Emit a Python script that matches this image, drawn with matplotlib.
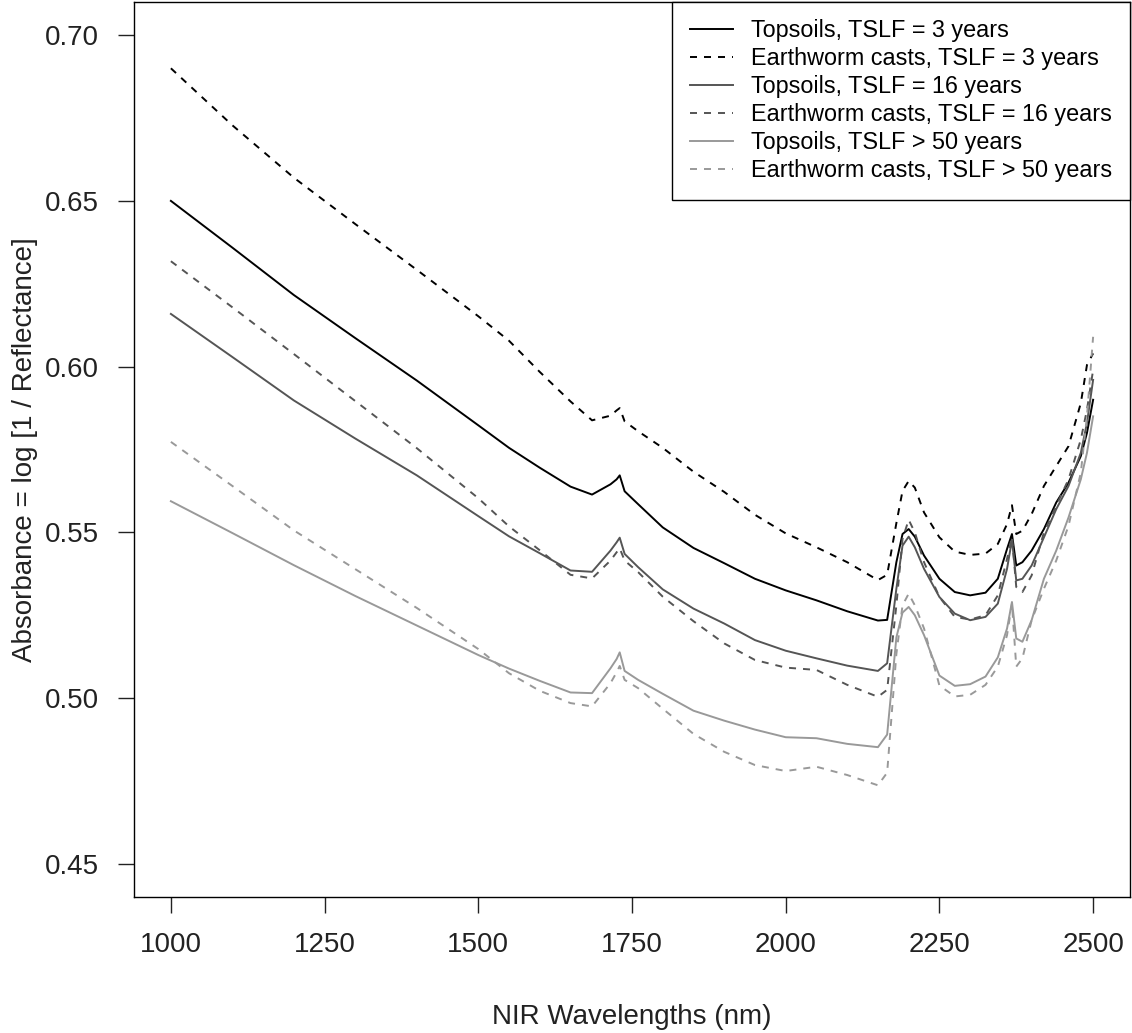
import matplotlib
matplotlib.use("Agg")
import matplotlib.pyplot as plt

plt.rcParams['font.family'] = ['Liberation Sans', 'DejaVu Sans']

wavelength = [1000, 1100, 1200, 1300, 1400, 1500, 1550, 1600, 1650, 1685,
              1715, 1725, 1730, 1738, 1760, 1800, 1850, 1900, 1950, 2000,
              2050, 2100, 2150, 2165, 2180, 2190, 2200, 2210, 2225, 2250,
              2275, 2300, 2325, 2345, 2360, 2368, 2375, 2385, 2400, 2420,
              2440, 2460, 2480, 2490, 2500]

topsoil_3 = [0.6500, 0.6359, 0.6216, 0.6086, 0.5958, 0.5823, 0.5755, 0.5695, 0.5638, 0.5614,
             0.5645, 0.5660, 0.5672, 0.5624, 0.5585, 0.5515, 0.5453, 0.5407, 0.5360, 0.5325,
             0.5295, 0.5262, 0.5234, 0.5236, 0.5410, 0.5495, 0.5510, 0.5487, 0.5430, 0.5360,
             0.5320, 0.5310, 0.5318, 0.5360, 0.5450, 0.5495, 0.5400, 0.5410, 0.5445, 0.5510,
             0.5590, 0.5650, 0.5730, 0.5800, 0.5900]

casts_3 = [0.6900, 0.6728, 0.6570, 0.6430, 0.6292, 0.6152, 0.6078, 0.5984, 0.5895, 0.5838,
           0.5852, 0.5868, 0.5875, 0.5835, 0.5805, 0.5755, 0.5683, 0.5622, 0.5553, 0.5497,
           0.5455, 0.5410, 0.5356, 0.5372, 0.5528, 0.5625, 0.5655, 0.5635, 0.5560, 0.5485,
           0.5442, 0.5432, 0.5436, 0.5465, 0.5525, 0.5582, 0.5495, 0.5505, 0.5555, 0.5640,
           0.5700, 0.5760, 0.5890, 0.6005, 0.6040]

topsoil_16 = [0.6159, 0.6029, 0.5898, 0.5783, 0.5672, 0.5549, 0.5488, 0.5437, 0.5385, 0.5381,
              0.5445, 0.5470, 0.5484, 0.5435, 0.5395, 0.5328, 0.5270, 0.5225, 0.5175, 0.5143,
              0.5120, 0.5098, 0.5082, 0.5105, 0.5330, 0.5460, 0.5487, 0.5455, 0.5390, 0.5305,
              0.5255, 0.5235, 0.5245, 0.5285, 0.5390, 0.5477, 0.5355, 0.5360, 0.5400, 0.5485,
              0.5570, 0.5640, 0.5740, 0.5830, 0.5960]

casts_16 = [0.6318, 0.6179, 0.6038, 0.5896, 0.5754, 0.5603, 0.5518, 0.5446, 0.5372, 0.5361,
            0.5415, 0.5440, 0.5452, 0.5415, 0.5380, 0.5306, 0.5232, 0.5165, 0.5115, 0.5092,
            0.5085, 0.5040, 0.5004, 0.5025, 0.5280, 0.5480, 0.5538, 0.5500, 0.5410, 0.5305,
            0.5245, 0.5237, 0.5250, 0.5310, 0.5420, 0.5487, 0.5335, 0.5320, 0.5370, 0.5500,
            0.5580, 0.5660, 0.5780, 0.5870, 0.5990]

topsoil_50 = [0.5594, 0.5498, 0.5401, 0.5308, 0.5219, 0.5130, 0.5089, 0.5052, 0.5017, 0.5015,
              0.5090, 0.5118, 0.5138, 0.5082, 0.5055, 0.5013, 0.4962, 0.4932, 0.4905, 0.4882,
              0.4879, 0.4862, 0.4852, 0.4890, 0.5183, 0.5258, 0.5275, 0.5250, 0.5190, 0.5068,
              0.5037, 0.5042, 0.5065, 0.5123, 0.5210, 0.5290, 0.5180, 0.5170, 0.5235, 0.5360,
              0.5445, 0.5545, 0.5660, 0.5740, 0.5850]

casts_50 = [0.5773, 0.5640, 0.5506, 0.5389, 0.5272, 0.5148, 0.5075, 0.5022, 0.4985, 0.4975,
            0.5045, 0.5078, 0.5097, 0.5055, 0.5030, 0.4968, 0.4892, 0.4838, 0.4798, 0.4780,
            0.4793, 0.4768, 0.4737, 0.4775, 0.5133, 0.5280, 0.5315, 0.5280, 0.5210, 0.5038,
            0.5005, 0.5010, 0.5040, 0.5095, 0.5190, 0.5285, 0.5095, 0.5120, 0.5235, 0.5330,
            0.5415, 0.5520, 0.5680, 0.5850, 0.6090]

labels = ["Topsoils, TSLF = 3 years", "Earthworm casts, TSLF = 3 years",
          "Topsoils, TSLF = 16 years", "Earthworm casts, TSLF = 16 years",
          "Topsoils, TSLF > 50 years", "Earthworm casts, TSLF > 50 years"]
series = [topsoil_3, casts_3, topsoil_16, casts_16, topsoil_50, casts_50]
colors = ["#000000", "#000000", "#555555", "#555555", "#999999", "#999999"]
styles = ["-", (0, (3.6, 3.6)), "-", (0, (3.6, 3.6)), "-", (0, (3.6, 3.6))]

x_ticks = [1000, 1250, 1500, 1750, 2000, 2250, 2500]
y_ticks = [0.45, 0.50, 0.55, 0.60, 0.65, 0.70]

fig = plt.figure(figsize=(11.32, 10.33), dpi=100)
ax = fig.add_axes([134/1132, 1-897/1033, 996/1132, 895/1033])

for vals, lab, col, ls in zip(series, labels, colors, styles):
    ax.plot(wavelength, vals, color=col, linestyle=ls, linewidth=1.4, label=lab)

ax.set_xlim(940, 2560)
ax.set_ylim(0.44, 0.71)
ax.set_xticks(x_ticks)
ax.set_xticklabels([str(v) for v in x_ticks])
ax.set_yticks(y_ticks)
ax.set_yticklabels(["%.2f" % v for v in y_ticks])
ax.tick_params(axis='both', direction='out', length=11.5, width=1.0,
               labelsize=20, colors='#222222')
ax.tick_params(axis='x', pad=14)
ax.tick_params(axis='y', pad=14)
for sp in ax.spines.values():
    sp.set_linewidth(1.0)
    sp.set_color('black')

ax.set_xlabel("NIR Wavelengths (nm)", fontsize=20, labelpad=33, color='#222222')
ax.set_ylabel("Absorbance = log [1 / Reflectance]", fontsize=20, labelpad=5, color='#222222')

leg = ax.legend(loc='upper right', bbox_to_anchor=(1, 1), borderaxespad=0,
                fontsize=16.8, frameon=True, fancybox=False, framealpha=1,
                edgecolor='black', handlelength=1.88, handletextpad=0.77,
                labelspacing=0.21, borderpad=0.75)
leg.get_frame().set_linewidth(1.0)

fig.savefig("out.png", dpi=100)
